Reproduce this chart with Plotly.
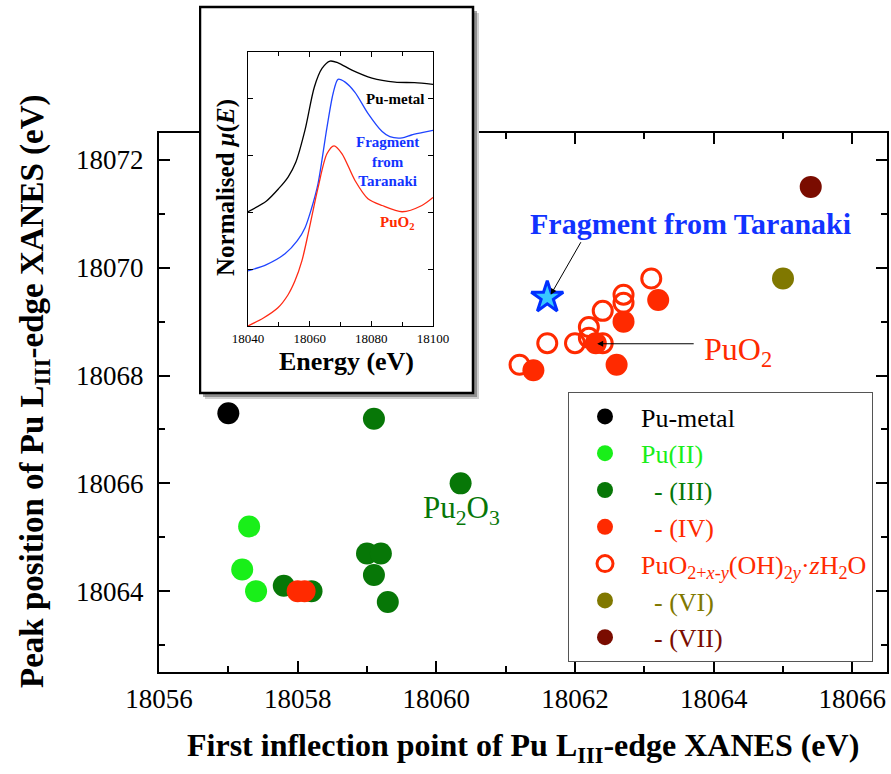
import plotly.graph_objects as go

FONT = "Liberation Serif"

# ---------------- main scatter data ----------------
metal_x = [18057.0]
metal_y = [18067.3]

pu2_x = [18057.3, 18057.2, 18057.4]
pu2_y = [18065.2, 18064.4, 18064.0]

pu3_x = [18057.8, 18058.2, 18059.0, 18059.2, 18059.1, 18059.3, 18060.35, 18059.1]
pu3_y = [18064.1, 18064.0, 18064.7, 18064.7, 18064.3, 18063.8, 18066.0, 18067.2]

open_x = [18061.2, 18061.6, 18062.0, 18062.2, 18062.2, 18062.4, 18062.4, 18062.7, 18062.7, 18063.1]
open_y = [18068.2, 18068.6, 18068.6, 18068.9, 18068.7, 18068.6, 18069.2, 18069.5, 18069.35, 18069.8]

pu4_x = [18058.0, 18058.1, 18061.4, 18062.6, 18062.7, 18063.2, 18062.3]
pu4_y = [18064.0, 18064.0, 18068.1, 18068.2, 18069.0, 18069.4, 18068.6]

pu6_x = [18065.0]
pu6_y = [18069.8]

pu7_x = [18065.4]
pu7_y = [18071.5]

frag_x = [18061.6]
frag_y = [18069.45]

# ---------------- inset XANES spectra ----------------
energy_metal = [18040, 18046, 18050, 18053, 18055.5, 18058.5, 18061.5, 18064.0, 18066.6, 18069.2,
                18073.7, 18080.2, 18087.7, 18094, 18100]
mu_metal = [2.01, 2.20, 2.42, 2.62, 2.88, 3.45, 4.20, 4.53, 4.66, 4.63, 4.50, 4.36, 4.29, 4.28, 4.25]

energy_frag = [18040, 18046, 18052, 18056, 18058.5, 18060.5, 18062.7, 18065.6, 18067.6, 18069.2,
               18071.5, 18074.7, 18078.9, 18083.5, 18086, 18090, 18093, 18096.4, 18100]
mu_frag = [0.97, 1.08, 1.27, 1.50, 1.73, 2.05, 2.50, 3.49, 4.09, 4.34, 4.29, 4.11, 3.74, 3.42,
           3.33, 3.31, 3.36, 3.40, 3.44]

energy_puo2 = [18040, 18045, 18049.7, 18053, 18055.2, 18057.5, 18059.5, 18062.7, 18065.6, 18067.9,
               18070.5, 18074.7, 18078.9, 18083.5, 18090, 18096.4, 18100]
mu_puo2 = [0.0, 0.14, 0.32, 0.55, 0.79, 1.15, 1.62, 2.43, 3.03, 3.17, 3.03, 2.56, 2.24, 2.12,
           2.01, 2.12, 2.26]

x_ticks = [18056, 18058, 18060, 18062, 18064, 18066]
y_ticks = [18064, 18066, 18068, 18070, 18072]
inset_x_ticks = [18040, 18060, 18080, 18100]
inset_y_ticks = [1, 2, 3, 4]

C_BLACK = "#000000"
C_PU2 = "#19ef19"
C_PU3 = "#077707"
C_PU4 = "#ff2a00"
C_PU6 = "#807800"
C_PU7 = "#7a0c00"
C_BLUE = "#1133ff"

fig = go.Figure()


def dots(x, y, color, name, rank, size=22, symbol="circle", line=None):
    return go.Scatter(
        x=x, y=y, mode="markers", name=name, legendrank=rank,
        marker=dict(size=size, color=color, symbol=symbol,
                    line=line if line else dict(width=0)),
        hoverinfo="skip",
    )


def lbl(text, color):
    return '<span style="color:%s">%s</span>' % (color, text)


SP = "\u00a0\u00a0"
fig.add_trace(dots(metal_x, metal_y, C_BLACK, lbl("Pu-metal", C_BLACK), 1))
fig.add_trace(dots(pu2_x, pu2_y, C_PU2, lbl("Pu(II)", C_PU2), 2))
fig.add_trace(dots(pu3_x, pu3_y, C_PU3, lbl(SP + "- (III)", C_PU3), 3))
fig.add_trace(dots(open_x, open_y, C_PU4,
                   lbl("PuO<sub>2+<i>x</i>-<i>y</i></sub>(OH)<sub>2<i>y</i></sub>·<i>z</i>H<sub>2</sub>O", C_PU4),
                   5, size=19, symbol="circle-open", line=dict(width=3, color=C_PU4)))
fig.add_trace(dots(pu4_x, pu4_y, C_PU4, lbl(SP + "- (IV)", C_PU4), 4))
fig.add_trace(dots(pu6_x, pu6_y, C_PU6, lbl(SP + "- (VI)", C_PU6), 6))
fig.add_trace(dots(pu7_x, pu7_y, C_PU7, lbl(SP + "- (VII)", C_PU7), 7))
fig.add_trace(go.Scatter(x=frag_x, y=frag_y, mode="markers", showlegend=False, hoverinfo="skip",
                         marker=dict(symbol="star", size=24, color="#38c8ff",
                                     line=dict(width=3, color="#0030ff"))))

# box subplot (holds the inset frame + shadow)
fig.add_trace(go.Scatter(x=[], y=[], xaxis="x2", yaxis="y2", showlegend=False, hoverinfo="skip"))

# inset traces
for ex, mu, col in [(energy_metal, mu_metal, "#000000"),
                    (energy_frag, mu_frag, "#1f44ff"),
                    (energy_puo2, mu_puo2, "#ff2a14")]:
    fig.add_trace(go.Scatter(x=ex, y=mu, xaxis="x3", yaxis="y3", mode="lines",
                             line=dict(color=col, width=1.3, shape="spline", smoothing=0.8),
                             showlegend=False, hoverinfo="skip"))

L, R, T, B = 159, 4, 4, 102
W, H = 891, 774
PW, PH = W - L - R, H - T - B


def px_x(p):
    return (p - L) / PW


def px_y(p):
    return (H - B - p) / PH


axis_common = dict(showgrid=False, zeroline=False, showline=True, linecolor="black",
                   linewidth=2, ticks="inside", ticklen=11, tickwidth=2, tickcolor="black",
                   mirror="ticks", automargin=False, tickformat="d",
                   tickfont=dict(family=FONT, size=27, color="black"))

fig.update_layout(
    template="none",
    width=W, height=H,
    margin=dict(l=L, r=R, t=T, b=B, autoexpand=False),
    paper_bgcolor="white", plot_bgcolor="white",
    font=dict(family=FONT, color="black"),
    xaxis=dict(domain=[0, 1], range=[18056, 18066.5], tickvals=x_ticks,
               minor=dict(dtick=1, ticks="inside", ticklen=6, tickwidth=2, tickcolor="black"),
               ticklabelstandoff=2,
               **axis_common),
    yaxis=dict(domain=[0, px_y(133)], range=[18062.5, 18072.5], tickvals=y_ticks,
               minor=dict(dtick=1, ticks="inside", ticklen=6, tickwidth=2, tickcolor="black"),
               ticklabelstandoff=8,
               **axis_common),
    xaxis2=dict(domain=[px_x(199), px_x(479)], range=[0, 1], visible=False, anchor="y2",
                automargin=False),
    yaxis2=dict(domain=[px_y(399), px_y(5)], range=[0, 1], visible=False, anchor="x2",
                automargin=False),
    xaxis3=dict(domain=[px_x(248), px_x(433)], range=[18040, 18100], anchor="y3",
                tickvals=inset_x_ticks, tickformat="d", showgrid=False, zeroline=False, showline=True,
                linecolor="black", linewidth=1, mirror="ticks", ticks="inside", ticklen=5,
                tickcolor="black", tickfont=dict(family=FONT, size=13, color="black"),
                automargin=False,
                minor=dict(dtick=10, ticks="inside", ticklen=4, tickcolor="black")),
    yaxis3=dict(domain=[px_y(326), px_y(52)], range=[0, 4.82], anchor="x3",
                tickvals=inset_y_ticks, showticklabels=False, showgrid=False, zeroline=False,
                showline=True, linecolor="black", linewidth=1, mirror="ticks",
                ticks="inside", ticklen=5, tickcolor="black", automargin=False),
    legend=dict(x=px_x(568), y=px_y(392), xanchor="left", yanchor="top",
                bgcolor="white", bordercolor="#555555", borderwidth=1,
                font=dict(family=FONT, size=26), itemwidth=62, tracegroupgap=0),
    showlegend=True,
)

# inset frame + shadow (in box subplot coordinates)
fig.add_shape(type="rect", xref="x2", yref="y2", x0=6 / 280, x1=280 / 280, y0=0, y1=386 / 394,
              fillcolor="rgba(120,120,120,0.35)", line=dict(width=0), layer="below")
fig.add_shape(type="rect", xref="x2", yref="y2", x0=4 / 280, x1=278 / 280, y0=2 / 394, y1=388 / 394,
              fillcolor="rgba(90,90,90,0.55)", line=dict(width=0), layer="below")
fig.add_shape(type="rect", xref="x2", yref="y2", x0=1 / 280, x1=274 / 280, y0=6 / 394, y1=392 / 394,
              fillcolor="white", line=dict(width=2.5, color="black"), layer="below")

ann = []
C = dict(xanchor="center", yanchor="middle", showarrow=False)
# main axis titles
ann.append(dict(xref="paper", yref="paper", x=px_x(523), y=px_y(748),
                text="<b>First inflection point of Pu L<sub>III</sub>-edge XANES (eV)</b>",
                font=dict(family=FONT, size=32, color="black"), **C))
ann.append(dict(xref="paper", yref="paper", x=px_x(34), y=px_y(392), textangle=-90,
                text="<b>Peak position of Pu L<sub>III</sub>-edge XANES (eV)</b>",
                font=dict(family=FONT, size=33, color="black"), **C))
# main annotations
ann.append(dict(xref="x", yref="y", x=18063.66, y=18070.83,
                text="<b>Fragment from Taranaki</b>", font=dict(family=FONT, size=30, color=C_BLUE), **C))
ann.append(dict(xref="x", yref="y", x=18061.65, y=18069.5, ax=31, ay=-54, text="",
                showarrow=True, arrowhead=2, arrowsize=1.2, arrowwidth=1, arrowcolor="black"))
ann.append(dict(xref="x", yref="y", x=18064.35, y=18068.45,
                text="PuO<sub>2</sub>", font=dict(family=FONT, size=32, color=C_PU4), **C))
ann.append(dict(xref="x", yref="y", x=18062.32, y=18068.59, ax=98, ay=0, text="",
                showarrow=True, arrowhead=2, arrowsize=1.2, arrowwidth=1, arrowcolor="black"))
ann.append(dict(xref="x", yref="y", x=18060.37, y=18065.5,
                text="Pu<sub>2</sub>O<sub>3</sub>", font=dict(family=FONT, size=31, color=C_PU3), **C))
# inset annotations
ann.append(dict(xref="x3", yref="y3", x=18097.7, y=3.99, showarrow=False, xanchor="right",
                yanchor="middle",
                text="<b>Pu-metal</b>", font=dict(family=FONT, size=15, color="black")))
ann.append(dict(xref="x3", yref="y3", x=18085.4, y=2.89,
                text="<b>Fragment<br>from<br>Taranaki</b>", font=dict(family=FONT, size=15, color=C_BLUE),
                **C))
ann.append(dict(xref="x3", yref="y3", x=18088.3, y=1.82,
                text="<b>PuO<sub>2</sub></b>", font=dict(family=FONT, size=15, color=C_PU4), **C))
ann.append(dict(xref="paper", yref="paper", x=px_x(226), y=px_y(188), textangle=-90,
                text="<b>Normalised <i>μ</i>(<i>E</i>)</b>", font=dict(family=FONT, size=25, color="black"),
                **C))
ann.append(dict(xref="paper", yref="paper", x=px_x(346), y=px_y(361),
                text="<b>Energy (eV)</b>", font=dict(family=FONT, size=26, color="black"), **C))
fig.update_layout(annotations=ann)

fig.write_html("out.html", post_script="document.body.style.margin='0px';",
               config={"displayModeBar": False})
